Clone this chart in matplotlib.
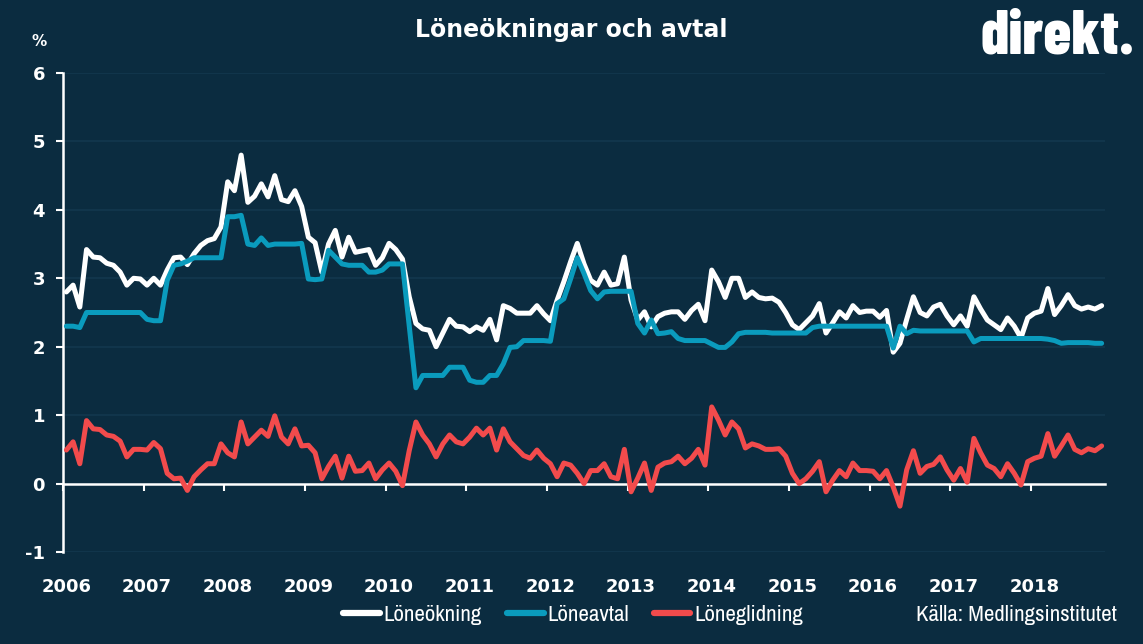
import numpy as np
import pandas as pd
import matplotlib
matplotlib.use("Agg")
import matplotlib.pyplot as plt
from matplotlib.lines import Line2D

plt.rcParams["axes.unicode_minus"] = False
plt.rcParams["font.weight"] = "bold"

# Monthly data, Jan 2006 - Nov 2018 (percent)
months = pd.period_range("2006-01", "2018-11", freq="M")

loneokning = [
    2.80, 2.90, 2.58, 3.42, 3.31, 3.30, 3.22, 3.19, 3.09, 2.90,
    3.00, 2.99, 2.90, 3.00, 2.90, 3.12, 3.30, 3.31, 3.20, 3.36,
    3.48, 3.55, 3.58, 3.75, 4.41, 4.28, 4.80, 4.11, 4.20, 4.38,
    4.19, 4.50, 4.15, 4.12, 4.28, 4.05, 3.60, 3.52, 3.09, 3.50,
    3.70, 3.31, 3.60, 3.38, 3.40, 3.42, 3.19, 3.30, 3.51, 3.42,
    3.28, 2.73, 2.34, 2.26, 2.24, 2.00, 2.20, 2.40, 2.30, 2.29,
    2.22, 2.29, 2.24, 2.40, 2.10, 2.60, 2.56, 2.49, 2.49, 2.49,
    2.60, 2.48, 2.38, 2.68, 2.95, 3.24, 3.51, 3.21, 2.97, 2.90,
    3.09, 2.90, 2.92, 3.31, 2.68, 2.39, 2.51, 2.29, 2.44, 2.49,
    2.51, 2.51, 2.40, 2.53, 2.62, 2.38, 3.12, 2.95, 2.72, 3.00,
    3.00, 2.72, 2.80, 2.72, 2.70, 2.71, 2.65, 2.50, 2.32, 2.25,
    2.35, 2.45, 2.63, 2.20, 2.35, 2.51, 2.42, 2.60, 2.50, 2.52,
    2.52, 2.43, 2.53, 1.92, 2.05, 2.40, 2.73, 2.50, 2.45, 2.58,
    2.62, 2.45, 2.32, 2.45, 2.30, 2.73, 2.55, 2.39, 2.32, 2.25,
    2.42, 2.30, 2.13, 2.42, 2.49, 2.52, 2.85, 2.47, 2.60, 2.76,
    2.60, 2.55, 2.58, 2.55, 2.60,
]

loneavtal = [
    2.30, 2.30, 2.28, 2.50, 2.50, 2.50, 2.50, 2.50, 2.50, 2.50,
    2.50, 2.50, 2.40, 2.38, 2.38, 2.97, 3.19, 3.21, 3.25, 3.30,
    3.30, 3.30, 3.30, 3.30, 3.90, 3.90, 3.92, 3.50, 3.48, 3.59,
    3.48, 3.50, 3.50, 3.50, 3.50, 3.51, 2.99, 2.98, 2.99, 3.41,
    3.31, 3.21, 3.19, 3.19, 3.19, 3.09, 3.09, 3.12, 3.21, 3.21,
    3.21, 2.30, 1.40, 1.58, 1.58, 1.58, 1.58, 1.70, 1.70, 1.70,
    1.51, 1.48, 1.48, 1.58, 1.58, 1.75, 1.99, 2.00, 2.09, 2.09,
    2.09, 2.09, 2.08, 2.63, 2.70, 2.99, 3.30, 3.07, 2.82, 2.70,
    2.80, 2.81, 2.81, 2.81, 2.81, 2.34, 2.20, 2.39, 2.19, 2.20,
    2.22, 2.12, 2.09, 2.09, 2.09, 2.09, 2.04, 1.99, 1.99, 2.07,
    2.19, 2.21, 2.21, 2.21, 2.21, 2.20, 2.20, 2.20, 2.20, 2.20,
    2.20, 2.28, 2.30, 2.30, 2.30, 2.30, 2.30, 2.30, 2.30, 2.30,
    2.30, 2.30, 2.30, 1.98, 2.30, 2.19, 2.24, 2.23, 2.23, 2.23,
    2.23, 2.23, 2.23, 2.23, 2.23, 2.07, 2.12, 2.12, 2.12, 2.12,
    2.12, 2.12, 2.12, 2.12, 2.12, 2.12, 2.11, 2.09, 2.05, 2.06,
    2.06, 2.06, 2.06, 2.05, 2.05,
]

loneglidning = [
    0.49, 0.61, 0.29, 0.92, 0.80, 0.79, 0.71, 0.69, 0.62, 0.39,
    0.50, 0.50, 0.49, 0.60, 0.51, 0.15, 0.07, 0.08, -0.10, 0.10,
    0.20, 0.29, 0.29, 0.58, 0.45, 0.39, 0.90, 0.58, 0.68, 0.78,
    0.69, 0.99, 0.68, 0.58, 0.80, 0.55, 0.56, 0.45, 0.07, 0.25,
    0.40, 0.08, 0.40, 0.18, 0.19, 0.30, 0.07, 0.20, 0.30, 0.18,
    -0.03, 0.48, 0.90, 0.71, 0.58, 0.39, 0.58, 0.71, 0.61, 0.58,
    0.68, 0.81, 0.71, 0.81, 0.49, 0.80, 0.61, 0.51, 0.41, 0.37,
    0.49, 0.37, 0.29, 0.10, 0.30, 0.27, 0.15, 0.00, 0.19, 0.19,
    0.29, 0.10, 0.07, 0.50, -0.12, 0.08, 0.30, -0.10, 0.24, 0.30,
    0.32, 0.40, 0.29, 0.37, 0.50, 0.27, 1.12, 0.93, 0.71, 0.90,
    0.80, 0.52, 0.58, 0.55, 0.50, 0.50, 0.51, 0.40, 0.15, 0.00,
    0.07, 0.18, 0.32, -0.12, 0.05, 0.19, 0.10, 0.30, 0.19, 0.19,
    0.18, 0.07, 0.19, -0.05, -0.33, 0.20, 0.48, 0.15, 0.25, 0.28,
    0.39, 0.20, 0.05, 0.22, 0.02, 0.66, 0.45, 0.27, 0.22, 0.10,
    0.29, 0.15, -0.02, 0.32, 0.37, 0.40, 0.73, 0.40, 0.55, 0.71,
    0.50, 0.45, 0.51, 0.48, 0.55,
]

series = [
    ("Löneökning", loneokning, "#ffffff"),
    ("Löneavtal", loneavtal, "#0a9bbd"),
    ("Löneglidning", loneglidning, "#f24b4c"),
]

bg = "#0b2c40"
grid_col = "#13384e"
W, H = 1143, 644
narrow_font = ["Archivo Narrow", "Liberation Sans"]

fig = plt.figure(figsize=(W / 100, H / 100), dpi=100, facecolor=bg)
ax = fig.add_axes([63 / W, 1 - 552 / H, (1105 - 63) / W, (552 - 73) / H])
ax.set_facecolor(bg)

x = np.arange(len(months))
for name, vals, col in series:
    ax.plot(x, vals, color=col, lw=3.6, solid_capstyle="round",
            solid_joinstyle="round", label=name, zorder=3)

ax.set_xlim(-0.5, len(months) - 0.5)
ax.set_ylim(-1, 6)
ax.set_yticks(range(-1, 7))
ax.grid(axis="y", color=grid_col, lw=1.2, zorder=0)

# year boundaries as tick marks on the zero line, labels at January
years = sorted(set(p.year for p in months))
jan_idx = [i for i, p in enumerate(months) if p.month == 1]
ax.set_xticks([i - 0.5 for i in jan_idx])
ax.set_xticklabels([])
ax.set_xticks(jan_idx, minor=True)
ax.set_xticklabels([str(y) for y in years], minor=True)
ax.tick_params(axis="x", which="major", direction="out", length=5,
               width=1.5, color="white")
ax.tick_params(axis="x", which="minor", length=0, pad=68,
               labelcolor="white", labelsize=13)
ax.tick_params(axis="y", direction="out", length=5, width=1.5,
               color="white", labelcolor="white", labelsize=13, pad=8)

for s in ["top", "right"]:
    ax.spines[s].set_visible(False)
ax.spines["left"].set_color("white")
ax.spines["left"].set_linewidth(1.8)
ax.spines["bottom"].set_position(("data", 0))
ax.spines["bottom"].set_color("white")
ax.spines["bottom"].set_linewidth(1.8)
ax.spines["bottom"].set_zorder(2)

fig.text(39 / W, 1 - 41 / H, "%", color="white", fontsize=11,
         ha="center", va="center")
fig.text(571 / W, 1 - 30 / H, "Löneökningar och avtal", color="white",
         fontsize=17, ha="center", va="center")
fig.text(1134 / W, 1 - 53 / H, "direkt.", color="white", fontsize=45,
         fontweight=800, ha="right", va="baseline",
         family=["Barlow Condensed", "DejaVu Sans"])

handles = [Line2D([], [], color=c, lw=4.5, solid_capstyle="round")
           for _, _, c in series]
leg = fig.legend(handles, [n for n, _, _ in series], loc="center",
                 bbox_to_anchor=(573 / W, 1 - 615 / H), ncol=3,
                 frameon=False, handlelength=1.6, handletextpad=0.15,
                 columnspacing=1.1,
                 prop={"family": narrow_font, "size": 16.5,
                       "weight": "normal"})
for t in leg.get_texts():
    t.set_color("white")

fig.text(1117 / W, 1 - 615 / H, "Källa: Medlingsinstitutet", color="white",
         fontsize=16.5, fontweight="normal", ha="right", va="center",
         family=narrow_font)

fig.savefig("out.png", dpi=100, facecolor=bg)
